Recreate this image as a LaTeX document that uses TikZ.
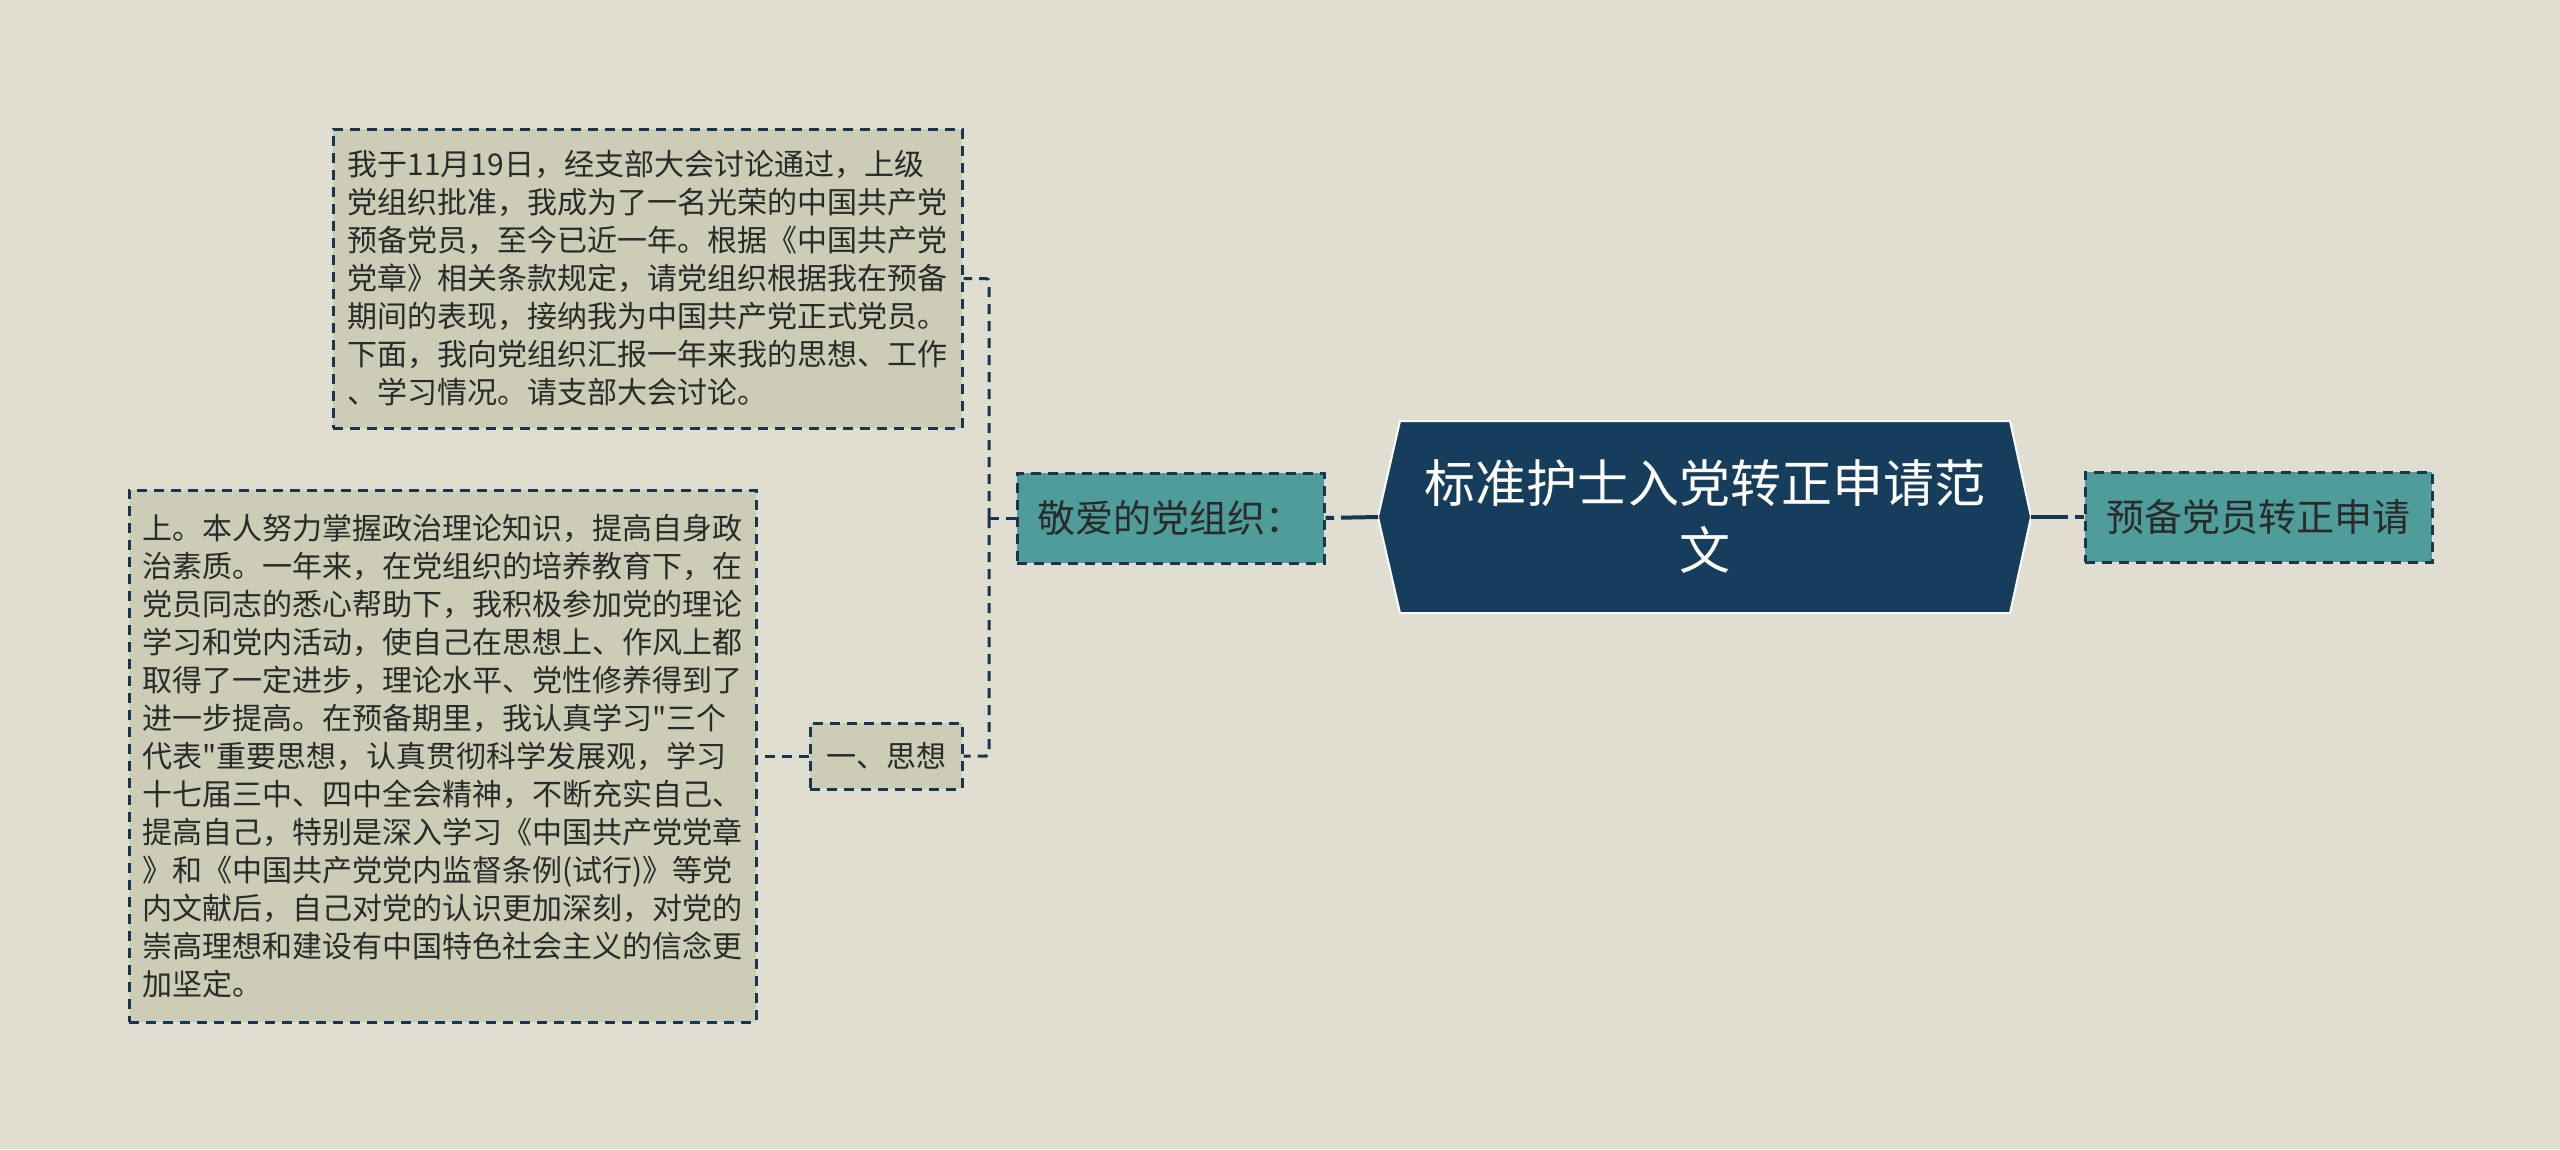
\documentclass[tikz,border=0pt]{standalone}
\usepackage{fontspec}
\setmainfont{Noto Sans CJK SC}[Ligatures=TeXOff]
\definecolor{bgc}{HTML}{DFDED0}
\definecolor{boxfill}{HTML}{CDCCB6}
\definecolor{tealfill}{HTML}{4E9D9B}
\definecolor{navy}{HTML}{173D5C}
\definecolor{edge}{HTML}{1A3550}
\definecolor{txt}{HTML}{2A2A2A}
\begin{document}
\begin{tikzpicture}[x=1pt,y=-1pt,
  dbox/.style={draw=edge, line width=3pt, dash pattern=on 10pt off 7pt, inner sep=0pt, text=txt},
  textbox/.style={dbox, fill=boxfill, align=left, font=\fontsize{30}{38}\selectfont},
  tealbox/.style={dbox, fill=tealfill, font=\fontsize{38}{46}\selectfont},
  smallbox/.style={dbox, fill=boxfill, font=\fontsize{30}{38}\selectfont},
  conn/.style={draw=edge, line width=3pt, dash pattern=on 10pt off 7pt},
  mainconn/.style={draw=edge, line width=4pt, dash pattern=on 37pt off 7pt on 10pt off 7pt}
]
\useasboundingbox (0,0) rectangle (2560,1149);
\fill[bgc] (0,0) rectangle (2560,1149);

% central node
\coordinate (cL) at (1378,517);
\coordinate (cR) at (2031,517);
\filldraw[fill=navy, draw=white!90!bgc, line width=2pt]
  (cL) -- (1400,421) -- (2010,421) -- (cR) -- (2010,613) -- (1400,613) -- cycle;
\node[text=white, align=center, font=\fontsize{51}{67}\selectfont] (c) at (1705,517)
  {标准护士入党转正申请范\\文};

% teal boxes
\node[tealbox, minimum width=307pt, minimum height=90pt] (jing) at (1170.5,518) {敬爱的党组织：};
\node[tealbox, minimum width=347pt, minimum height=90pt] (yubei) at (2258.5,517) {预备党员转正申请};

% text boxes
\node[textbox, minimum width=629pt, minimum height=299pt] (top) at (647.5,278.5)
{我于11月19日，经支部大会讨论通过，上级\\
党组织批准，我成为了一名光荣的中国共产党\\
预备党员，至今已近一年。根据《中国共产党\\
党章》相关条款规定，请党组织根据我在预备\\
期间的表现，接纳我为中国共产党正式党员。\\
下面，我向党组织汇报一年来我的思想、工作\\
、学习情况。请支部大会讨论。};

\node[smallbox, minimum width=152pt, minimum height=66pt] (yi) at (886,756) {一、思想};

\node[textbox, minimum width=627pt, minimum height=532pt] (bot) at (442.5,756)
{上。本人努力掌握政治理论知识，提高自身政\\
治素质。一年来，在党组织的培养教育下，在\\
党员同志的悉心帮助下，我积极参加党的理论\\
学习和党内活动，使自己在思想上、作风上都\\
取得了一定进步，理论水平、党性修养得到了\\
进一步提高。在预备期里，我认真学习"三个\\
代表"重要思想，认真贯彻科学发展观，学习\\
十七届三中、四中全会精神，不断充实自己、\\
提高自己，特别是深入学习《中国共产党党章\\
》和《中国共产党党内监督条例(试行)》等党\\
内文献后，自己对党的认识更加深刻，对党的\\
崇高理想和建设有中国特色社会主义的信念更\\
加坚定。};

% connectors
\draw[mainconn] (cL) -- (jing.east);
\draw[mainconn] (cR) -- (yubei.west);
\coordinate (br) at (989,518);
\draw[conn] (jing.west) -- (br);
\draw[conn, rounded corners=3pt] (br) |- (top.east);
\draw[conn, rounded corners=3pt] (br) |- (yi.east);
\draw[conn] (yi.west) -- (bot.east);
\end{tikzpicture}
\end{document}
